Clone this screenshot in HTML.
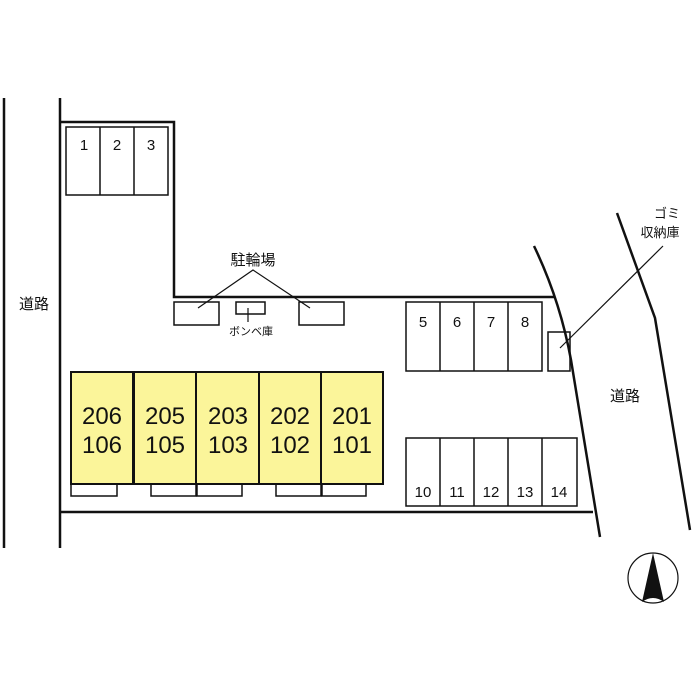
<!DOCTYPE html>
<html><head><meta charset="utf-8"><style>
html,body{margin:0;padding:0;background:#fff;}
svg{display:block;}
text{font-family:"Liberation Sans","Noto Sans CJK JP",sans-serif;fill:#111;}
</style></head><body>
<svg width="700" height="700" viewBox="0 0 700 700" xmlns="http://www.w3.org/2000/svg">
<g stroke="#111" fill="none">
<line x1="4" y1="98" x2="4" y2="548" stroke-width="2.5"/>
<line x1="60" y1="98" x2="60" y2="548" stroke-width="2.5"/>
<polyline points="60,122 174,122 174,297 555,297" stroke-width="2.5"/>
<line x1="60" y1="512" x2="593" y2="512" stroke-width="2.5"/>
<path d="M534,246 Q560,300 571,360 L600,537" stroke-width="2.5"/>
<path d="M617,213 L655,318 L690,530" stroke-width="2.5"/>
<g stroke-width="1.5">
<rect x="66" y="127" width="102" height="68"/>
<line x1="100" y1="127" x2="100" y2="195"/><line x1="134" y1="127" x2="134" y2="195"/>
<rect x="174" y="302" width="45" height="23"/>
<rect x="236" y="302" width="29" height="12"/>
<rect x="299" y="302" width="45" height="23"/>
<polyline points="198,308 253,270 310,308" stroke-width="1.2"/>
<line x1="248" y1="308" x2="248" y2="322" stroke-width="1.2"/>
<rect x="406" y="302" width="136" height="69"/>
<line x1="440" y1="302" x2="440" y2="371"/><line x1="474" y1="302" x2="474" y2="371"/><line x1="508" y1="302" x2="508" y2="371"/>
<rect x="406" y="438" width="171" height="68"/>
<line x1="440" y1="438" x2="440" y2="506"/><line x1="474" y1="438" x2="474" y2="506"/><line x1="508" y1="438" x2="508" y2="506"/><line x1="542" y1="438" x2="542" y2="506"/>
<rect x="548" y="332" width="22" height="39"/>
<line x1="560" y1="348" x2="663" y2="246" stroke-width="1.2"/>
<rect x="71" y="484" width="46" height="12"/>
<rect x="151" y="484" width="45" height="12"/>
<rect x="197" y="484" width="45" height="12"/>
<rect x="276" y="484" width="45" height="12"/>
<rect x="322" y="484" width="44" height="12"/>
</g>
<g fill="#fbf59a" stroke-width="2">
<rect x="71" y="372" width="62" height="112"/>
<rect x="134" y="372" width="62" height="112"/>
<rect x="196" y="372" width="63" height="112"/>
<rect x="259" y="372" width="62" height="112"/>
<rect x="321" y="372" width="62" height="112"/>
</g>
<circle cx="653" cy="578" r="25" stroke-width="1.2"/>
</g>
<path d="M653,553 L664,602 Q653,594 642,602 Z" fill="#111"/>
<g font-size="15" text-anchor="middle">
<text x="84" y="150">1</text><text x="117" y="150">2</text><text x="151" y="150">3</text>
<text x="423" y="327">5</text><text x="457" y="327">6</text><text x="491" y="327">7</text><text x="525" y="327">8</text>
<text x="423" y="497">10</text><text x="457" y="497">11</text><text x="491" y="497">12</text><text x="525" y="497">13</text><text x="559" y="497">14</text>
</g>
<g font-size="24" text-anchor="middle">
<text x="102" y="424">206</text><text x="102" y="453">106</text>
<text x="165" y="424">205</text><text x="165" y="453">105</text>
<text x="228" y="424">203</text><text x="228" y="453">103</text>
<text x="290" y="424">202</text><text x="290" y="453">102</text>
<text x="352" y="424">201</text><text x="352" y="453">101</text>
</g>
<g font-size="15" text-anchor="middle">
<text x="253" y="265">駐輪場</text>
<text x="34" y="309">道路</text>
<text x="625" y="401">道路</text>
<text x="667" y="218" font-size="13">ゴミ</text>
<text x="660" y="237" font-size="13">収納庫</text>
<text x="251" y="335" font-size="11">ボンベ庫</text>
</g>
</svg>
</body></html>
